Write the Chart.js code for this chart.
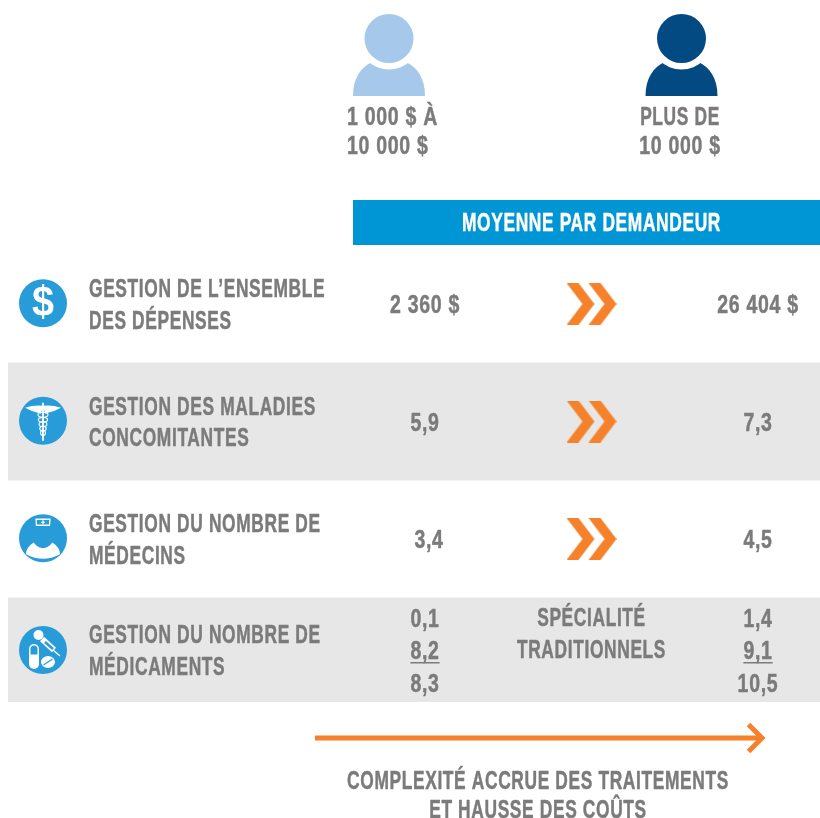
<!DOCTYPE html>
<html lang="fr">
<head>
<meta charset="utf-8">
<title>Moyenne par demandeur</title>
<script src="https://cdn.jsdelivr.net/npm/chart.js@4"></script>
<style>
  html, body { margin: 0; padding: 0; background: #fff; }
  canvas { display: block; }
</style>
</head>
<body>
<canvas id="chart" width="820" height="818"></canvas>
<script>
// ======================================
// Data
// ======================================

const columns = ["low", "mid", "high"];
const rowKeys = ["depenses", "maladies", "medecins", "medicaments"];
const rowLabels = [
  ["GESTION DE L’ENSEMBLE", "DES DÉPENSES"],
  ["GESTION DES MALADIES", "CONCOMITANTES"],
  ["GESTION DU NOMBRE DE", "MÉDECINS"],
  ["GESTION DU NOMBRE DE", "MÉDICAMENTS"],
];
const lowValues = [["2 360 $"], ["5,9"], ["3,4"], ["0,1", "8,2", "8,3"]];
const highValues = [["26 404 $"], ["7,3"], ["4,5"], ["1,4", "9,1", "10,5"]];
const medicationKinds = ["SPÉCIALITÉ", "TRADITIONNELS"];
const lowHeader = ["1 000 $ À", "10 000 $"];
const highHeader = ["PLUS DE", "10 000 $"];
const bannerTitle = "MOYENNE PAR DEMANDEUR";
const footerLines = ["COMPLEXITÉ ACCRUE DES TRAITEMENTS", "ET HAUSSE DES COÛTS"];

// ======================================
// Styles
// ======================================

const GREY = "#7b7b7b";
const BAND = "#e7e7e7";
const BLUE = "#0095d5";
const ICON_BLUE = "#279cd9";
const ORANGE = "#f5822a";
const LIGHT_PERSON = "#a6c8eb";
const DARK_PERSON = "#034a83";
const FONT = 'bold 26px "Liberation Sans Narrow", "Liberation Sans", sans-serif';
const SQUEEZE = 0.668;
const DIGIT_SQUEEZE = 0.75;
const SPACING = 0.95;
const LAST_ROW_SHIFT = -6.5;

// ======================================
// Text helpers
// ======================================

function text(ctx, str, x, y, align = "center", color = GREY) {
  // figures are wider than capitals in the original typeface
  const squeeze = /^\d/.test(str) ? DIGIT_SQUEEZE : SQUEEZE;
  ctx.save();
  ctx.font = FONT;
  ctx.letterSpacing = SPACING + "px";
  ctx.fillStyle = color;
  ctx.strokeStyle = color;
  ctx.lineWidth = 0.5;
  ctx.lineJoin = "round";
  ctx.textAlign = "left";
  ctx.textBaseline = "alphabetic";
  const width = ctx.measureText(str).width * squeeze;
  const left = align === "center" ? x - width / 2 : x;
  ctx.translate(left, y + 9);
  ctx.scale(squeeze, 1);
  ctx.fillText(str, 0, 0);
  ctx.strokeText(str, 0, 0);
  ctx.restore();
  return { left, width };
}

// ======================================
// Icons
// ======================================

function drawPerson(ctx, cx, color) {
  ctx.save();
  ctx.fillStyle = color;
  ctx.beginPath();
  ctx.moveTo(cx - 36, 96);
  ctx.bezierCurveTo(cx - 36, 78, cx - 28, 67, cx - 17, 62);
  ctx.lineTo(cx + 17, 62);
  ctx.bezierCurveTo(cx + 28, 67, cx + 36, 78, cx + 36, 96);
  ctx.closePath();
  ctx.fill();
  ctx.fillStyle = "#fff";
  ctx.beginPath();
  ctx.arc(cx, 38.5, 31, 0, 2 * Math.PI);
  ctx.fill();
  ctx.fillStyle = color;
  ctx.beginPath();
  ctx.arc(cx, 38.5, 24.5, 0, 2 * Math.PI);
  ctx.fill();
  ctx.restore();
}

function iconDisc(ctx, cy) {
  ctx.fillStyle = ICON_BLUE;
  ctx.beginPath();
  ctx.arc(43, cy, 24, 0, 2 * Math.PI);
  ctx.fill();
  ctx.fillStyle = "#fff";
  ctx.strokeStyle = "#fff";
}

function drawDollar(ctx, cy) {
  iconDisc(ctx, cy);
  ctx.font = 'bold 43px "Liberation Sans", sans-serif';
  ctx.textAlign = "center";
  ctx.textBaseline = "middle";
  ctx.translate(43, cy + 1);
  ctx.scale(0.92, 1);
  ctx.fillText("$", 0, 0);
}

function drawCaduceus(ctx, cy) {
  iconDisc(ctx, cy);
  // wings
  [-1, 1].forEach((side) => {
    ctx.beginPath();
    ctx.moveTo(43, cy - 15);
    ctx.quadraticCurveTo(43 + side * 9, cy - 16, 43 + side * 18, cy - 13);
    ctx.quadraticCurveTo(43 + side * 11, cy - 9, 43 + side * 2, cy - 7);
    ctx.closePath();
    ctx.fill();
  });
  // staff
  ctx.lineWidth = 1.8;
  ctx.beginPath();
  ctx.moveTo(43, cy - 18);
  ctx.lineTo(43, cy + 20);
  ctx.stroke();
  // snakes
  ctx.lineWidth = 1.1;
  ctx.beginPath();
  ctx.ellipse(43, cy - 6, 5, 2.5, 0, 0, 2 * Math.PI);
  ctx.stroke();
  for (let i = 0; i < 4; i++) {
    ctx.beginPath();
    ctx.ellipse(43, cy - 1 + i * 4.4, 4.6 - i * 0.7, 2.4, 0, 0, 2 * Math.PI);
    ctx.stroke();
  }
}

function drawDoctor(ctx, cy) {
  iconDisc(ctx, cy);
  // shoulders
  ctx.beginPath();
  ctx.moveTo(26, cy + 16);
  ctx.quadraticCurveTo(26, cy + 9, 34, cy + 4);
  ctx.lineTo(52, cy + 4);
  ctx.quadraticCurveTo(60, cy + 9, 60, cy + 16);
  ctx.quadraticCurveTo(43, cy + 25, 26, cy + 16);
  ctx.fill();
  // head and neck
  ctx.fillStyle = ICON_BLUE;
  ctx.beginPath();
  ctx.moveTo(33, cy + 3);
  ctx.quadraticCurveTo(36, cy - 1, 35, cy - 5);
  ctx.quadraticCurveTo(35, cy - 12, 43, cy - 12);
  ctx.quadraticCurveTo(51, cy - 12, 51, cy - 5);
  ctx.quadraticCurveTo(50, cy - 1, 53, cy + 3);
  ctx.quadraticCurveTo(50, cy + 9, 43, cy + 10);
  ctx.quadraticCurveTo(36, cy + 9, 33, cy + 3);
  ctx.fill();
  // cap
  ctx.lineWidth = 1.3;
  ctx.beginPath();
  ctx.moveTo(36, cy - 19);
  ctx.lineTo(50, cy - 19);
  ctx.lineTo(49.5, cy - 13);
  ctx.lineTo(36.5, cy - 13);
  ctx.closePath();
  ctx.stroke();
  ctx.lineWidth = 1.2;
  ctx.beginPath();
  ctx.moveTo(41, cy - 16);
  ctx.lineTo(45, cy - 16);
  ctx.moveTo(43, cy - 18);
  ctx.lineTo(43, cy - 14);
  ctx.stroke();
}

function drawPills(ctx, cy) {
  iconDisc(ctx, cy);
  // capsule
  ctx.beginPath();
  ctx.roundRect(29, cy - 6, 10, 25, 5);
  ctx.fill();
  ctx.fillStyle = ICON_BLUE;
  ctx.beginPath();
  ctx.roundRect(30.5, cy - 4.5, 7, 9, [3.5, 3.5, 0, 0]);
  ctx.fill();
  // tablet
  ctx.fillStyle = "#fff";
  ctx.beginPath();
  ctx.ellipse(48, cy + 12, 7, 6, 0, 0, 2 * Math.PI);
  ctx.fill();
  ctx.strokeStyle = ICON_BLUE;
  ctx.lineWidth = 1.2;
  ctx.beginPath();
  ctx.moveTo(43.5, cy + 15);
  ctx.lineTo(52.5, cy + 9);
  ctx.stroke();
  // dropper
  ctx.strokeStyle = "#fff";
  ctx.lineWidth = 6;
  ctx.beginPath();
  ctx.moveTo(42, cy - 11);
  ctx.lineTo(54, cy + 0);
  ctx.stroke();
  ctx.strokeStyle = ICON_BLUE;
  ctx.lineWidth = 2.5;
  ctx.beginPath();
  ctx.moveTo(45, cy - 8);
  ctx.lineTo(53, cy - 1);
  ctx.stroke();
  ctx.strokeStyle = "#fff";
  ctx.lineWidth = 1.2;
  ctx.beginPath();
  ctx.moveTo(53, cy);
  ctx.lineTo(60, cy + 6);
  ctx.stroke();
  ctx.beginPath();
  ctx.arc(38.5, cy - 15, 5, 0, 2 * Math.PI);
  ctx.fill();
}

const iconDrawers = [drawDollar, drawCaduceus, drawDoctor, drawPills];

function makeChevrons() {
  const c = document.createElement("canvas");
  c.width = 50;
  c.height = 42;
  const g = c.getContext("2d");
  g.fillStyle = ORANGE;
  [0, 22].forEach((dx) => {
    g.beginPath();
    g.moveTo(dx, 0);
    g.lineTo(dx + 12, 0);
    g.lineTo(dx + 28, 21);
    g.lineTo(dx + 12, 42);
    g.lineTo(dx, 42);
    g.lineTo(dx + 16, 21);
    g.closePath();
    g.fill();
  });
  return c;
}

// ======================================
// Bands, header, labels
// ======================================

const backdrop = {
  id: "backdrop",
  beforeDatasetsDraw(chart) {
    const { ctx, scales } = chart;
    const right = chart.width;
    ctx.save();
    ctx.fillStyle = BAND;
    const secondRow = scales.y.getPixelForValue(rowKeys[1]);
    ctx.fillRect(8, secondRow - 59, right - 8, 118);
    const lastRow = scales.y.getPixelForValue(rowKeys[3]) + LAST_ROW_SHIFT;
    ctx.fillRect(8, lastRow - 52.5, right - 8, 104.5);
    ctx.fillStyle = BLUE;
    ctx.fillRect(353, 200, right - 353, 45);
    ctx.restore();
  },
};

const annotations = {
  id: "annotations",
  afterDatasetsDraw(chart) {
    const { ctx, scales } = chart;
    const midX = scales.x.getPixelForValue("mid");

    drawPerson(ctx, 389, LIGHT_PERSON);
    drawPerson(ctx, 681.5, DARK_PERSON);
    lowHeader.forEach((line, i) => text(ctx, line, 347, 116 + i * 29, "left"));
    highHeader.forEach((line, i) => text(ctx, line, 680, 116 + i * 29));
    text(ctx, bannerTitle, midX, 222, "center", "#fff");

    rowKeys.forEach((key, r) => {
      const y = scales.y.getPixelForValue(key) + (r === 3 ? LAST_ROW_SHIFT : 0);
      ctx.save();
      iconDrawers[r](ctx, r === 3 ? y : y - 0.75);
      ctx.restore();
      rowLabels[r].forEach((line, i) => text(ctx, line, 89, y - 16 + i * 31.5, "left"));
    });

    // value labels sit on the plotted points
    [0, 1].forEach((d) => {
      const meta = chart.getDatasetMeta(d);
      const values = chart.data.datasets[d].data;
      meta.data.forEach((pt, r) => {
        const lines = values[r].lines;
        const shift = r === 3 ? LAST_ROW_SHIFT : 0;
        // the 3,4 sits a little right of its column in the original
        const nudge = d === 0 && r === 2 ? 4 : 0;
        lines.forEach((line, i) => {
          const y = pt.y + shift + (i - (lines.length - 1) / 2) * 32.5;
          const box = text(ctx, line, pt.x + nudge, y);
          if (lines.length > 1 && i === 1) {
            ctx.fillStyle = GREY;
            ctx.fillRect(box.left, y + 12, box.width, 1.5);
          }
        });
      });
    });

    const lastRow = scales.y.getPixelForValue(rowKeys[3]) + LAST_ROW_SHIFT;
    medicationKinds.forEach((line, i) => text(ctx, line, midX, lastRow - 33 + i * 32));

    // bottom arrow
    ctx.save();
    ctx.strokeStyle = ORANGE;
    ctx.lineWidth = 5;
    ctx.beginPath();
    ctx.moveTo(315, 738);
    ctx.lineTo(762, 738);
    ctx.stroke();
    ctx.beginPath();
    ctx.moveTo(748.5, 724.5);
    ctx.lineTo(762, 738);
    ctx.lineTo(748.5, 751.5);
    ctx.stroke();
    ctx.restore();

    footerLines.forEach((line, i) => text(ctx, line, 538, 780 + i * 29));
  },
};

// ======================================
// Chart
// ======================================

const chevrons = makeChevrons();

function pointsFor(column, values) {
  return values.map((lines, r) => ({ x: column, y: rowKeys[r], lines }));
}

new Chart(document.getElementById("chart"), {
  type: "line",
  data: {
    datasets: [
      { data: pointsFor("low", lowValues), showLine: false, pointRadius: 0 },
      { data: pointsFor("high", highValues), showLine: false, pointRadius: 0 },
      {
        data: rowKeys.slice(0, 3).map((key) => ({ x: "mid", y: key })),
        showLine: false,
        pointStyle: chevrons,
        clip: false,
      },
    ],
  },
  options: {
    responsive: false,
    animation: false,
    layout: { padding: { left: 425, right: 62, top: 304, bottom: 161.5 } },
    plugins: { legend: { display: false }, tooltip: { enabled: false } },
    scales: {
      x: { type: "category", labels: columns, offset: false, display: false },
      y: { type: "category", labels: rowKeys, offset: false, display: false },
    },
  },
  plugins: [backdrop, annotations],
});
</script>
</body>
</html>
